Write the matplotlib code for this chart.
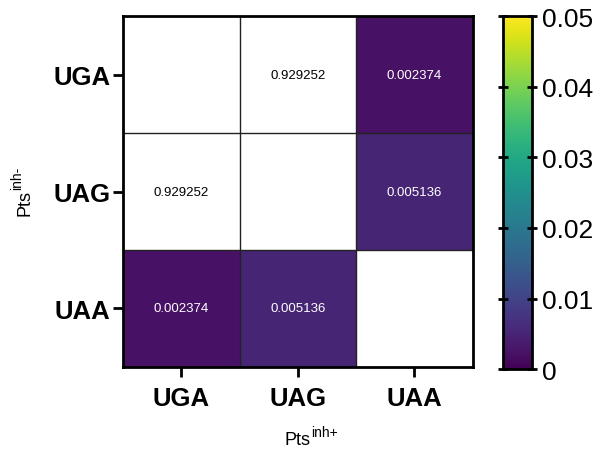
import numpy as np
import matplotlib.pyplot as plt

plt.rcParams['font.family'] = ['Liberation Sans', 'DejaVu Sans']

codons = ['UGA', 'UAG', 'UAA']
# pairwise p-values, rows = inh- strains, columns = inh+ strains
row_uga = [np.nan, 0.929252, 0.002374]
row_uag = [0.929252, np.nan, 0.005136]
row_uaa = [0.002374, 0.005136, np.nan]
cbar_ticks = [0, 0.01, 0.02, 0.03, 0.04, 0.05]
cbar_labels = ['0', '0.01', '0.02', '0.03', '0.04', '0.05']

pvals = np.array([row_uga, row_uag, row_uaa])

cmap = plt.get_cmap('viridis').copy()
cmap.set_over('white')
cmap.set_bad('white')

W, H = 606, 452
fig = plt.figure(figsize=(W / 100, H / 100), dpi=100)
ax = fig.add_axes([0.203, 0.186, 0.577, 0.776])
cax = fig.add_axes([0.830, 0.181, 0.048, 0.781])

im = ax.imshow(np.ma.masked_invalid(pvals), cmap=cmap, vmin=0, vmax=0.05,
               aspect='auto', interpolation='nearest')

# thin cell borders
for k in [0.5, 1.5]:
    ax.axhline(k, color='#222222', lw=1)
    ax.axvline(k, color='#222222', lw=1)

for i in range(3):
    for j in range(3):
        v = pvals[i, j]
        if np.isnan(v):
            continue
        col = 'white' if v <= 0.05 else 'black'
        ax.text(j, i, f'{v:.6f}', ha='center', va='center', fontsize=9.5, color=col)

ax.set_xticks(range(3))
ax.set_xticklabels(codons, fontsize=18.5, fontweight='bold')
ax.set_yticks(range(3))
ax.set_yticklabels(codons, fontsize=18.5, fontweight='bold')
ax.tick_params(length=7, width=2, pad=2)
ax.tick_params(axis='x', pad=7)
for s in ax.spines.values():
    s.set_linewidth(2)

# axis titles with plain-text superscripts
xl = fig.text(298 / W, 1 - 445 / H, 'Pts', ha='center', va='baseline', fontsize=13)
ax.annotate('inh+', xy=(1, 0), xycoords=xl, xytext=(0.5, 12),
            textcoords='offset pixels', ha='left', va='baseline', fontsize=10,
            annotation_clip=False)
yl = fig.text(29 / W, 1 - 203 / H, 'Pts', ha='center', va='baseline', fontsize=13,
              rotation=90, rotation_mode='anchor')
ax.annotate('inh-', xy=(1, 1), xycoords=yl, xytext=(-12, 0.5),
            textcoords='offset pixels', ha='left', va='baseline', fontsize=10,
            rotation=90, rotation_mode='anchor', annotation_clip=False)

cbar = fig.colorbar(im, cax=cax)
cbar.set_ticks(cbar_ticks)
cbar.set_ticklabels(cbar_labels)
cbar.outline.set_linewidth(2)
cax.tick_params(left=True, right=True, direction='inout', length=7, width=2,
                labelsize=19, pad=4)

fig.savefig('out.png', dpi=100)
